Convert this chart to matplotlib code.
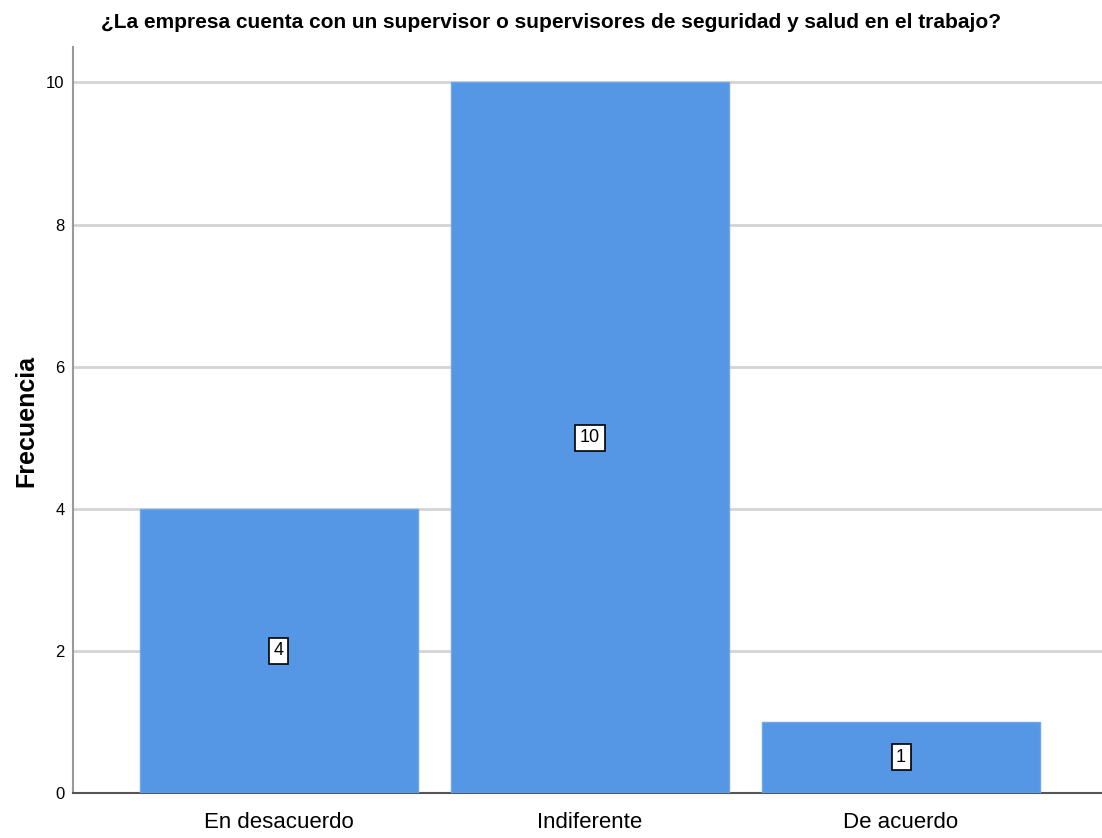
import matplotlib.pyplot as plt

# datos
categorias = ["En desacuerdo", "Indiferente", "De acuerdo"]
frecuencias = [4, 10, 1]
titulo = "¿La empresa cuenta con un supervisor o supervisores de seguridad y salud en el trabajo?"

plt.rcParams['font.family'] = ['Liberation Sans', 'DejaVu Sans']

fig = plt.figure(figsize=(11.02, 8.38), dpi=100)
ax = fig.add_axes([0.0662, 0.0537, 0.9338, 0.8903])

x = list(range(len(categorias)))
ax.bar(x, frecuencias, width=0.894, color="#5596E5", edgecolor="#6FA6EA", linewidth=1, zorder=3)

# etiquetas dentro de las barras
for xi, v in zip(x, frecuencias):
    ax.text(xi, v / 2, str(v), ha="center", va="center", fontsize=13, zorder=4,
            bbox=dict(boxstyle="square,pad=0.25", facecolor="white", edgecolor="black", linewidth=1.2))

ax.set_xlim(-0.662, 2.646)
ax.set_ylim(0, 10.5)
ax.set_yticks([0, 2, 4, 6, 8, 10])
ax.set_xticks(x)
ax.set_xticklabels(categorias, fontsize=16)
ax.tick_params(axis="y", length=0, labelsize=12, pad=6)
ax.tick_params(axis="x", length=0, pad=14)

ax.yaxis.grid(True, color="#D4D4D4", linewidth=2, zorder=0)
ax.set_axisbelow(True)
for s in ["top", "right"]:
    ax.spines[s].set_visible(False)
ax.spines["left"].set_color("#9A9A9A")
ax.spines["left"].set_linewidth(1.5)
ax.spines["bottom"].set_color("#555555")
ax.spines["bottom"].set_linewidth(1.5)

fig.text(0.024, 0.498, "Frecuencia", rotation=90, ha="center", va="center", fontsize=18, fontweight="bold")
fig.text(0.500, 0.973, titulo, ha="center", va="center", fontsize=15, fontweight="bold")

plt.savefig("out.png", dpi=100)
